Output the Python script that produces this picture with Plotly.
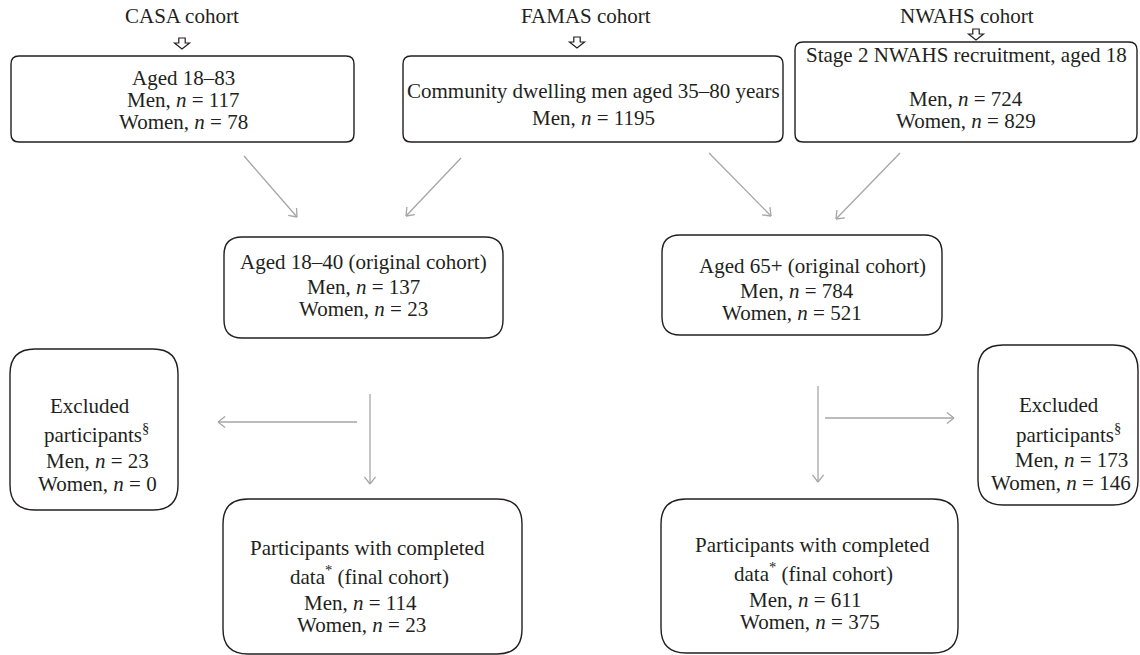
import numpy as np
import plotly.graph_objects as go

W, H = 1140, 655

# ---------------- data ----------------
cohort_names = ["CASA cohort", "FAMAS cohort", "NWAHS cohort"]
source_desc = ["Aged 18–83", "Community dwelling men aged 35–80 years", "Stage 2 NWAHS recruitment, aged 18"]
source_men = [117, 1195, 724]
source_women = [78, None, 829]

group_desc = ["Aged 18–40 (original cohort)", "Aged 65+ (original cohort)"]
original_men = [137, 784]
original_women = [23, 521]
excluded_men = [23, 173]
excluded_women = [0, 146]
final_men = [114, 611]
final_women = [23, 375]

# ---------------- styles / layout spec ----------------
FONT = "Liberation Serif"
FS = 21
TXT = "#231f20"
BOX = "#231f20"
ARROW = "#a6a6a6"

def men(n):
    return f"Men, <i>n</i> = {n}"

def women(n):
    return f"Women, <i>n</i> = {n}"

# boxes: x0, y0, x1, y1, radius
top_boxes = [(11, 56, 354, 142, 8), (403, 56, 783, 142, 8), (795, 42, 1137, 142, 8)]
mid_boxes = [(224, 237, 503, 338, 18), (662, 235, 942, 335, 18)]
excl_boxes = [(10, 349, 178, 510, 25), (978, 345, 1138, 505, 25)]
final_boxes = [(223, 499, 522, 654, 25), (661, 499, 958, 653, 25)]

title_pos = [(182, 16), (586, 16), (967, 16)]
hollow_pos = [(182, 38), (577, 37), (976, 29)]

# text lines per box: (text, x, y)
texts = []
# top boxes
texts += [(source_desc[0], 183, 78), (men(source_men[0]), 183, 100), (women(source_women[0]), 183, 122)]
texts += [(source_desc[1], 593, 91), (men(source_men[1]), 593, 118)]
texts += [(source_desc[2], 966, 55), (men(source_men[2]), 966, 99), (women(source_women[2]), 966, 121)]
# mid boxes
texts += [(group_desc[0], 363, 262), (men(original_men[0]), 363, 287), (women(original_women[0]), 363, 309)]
texts += [(group_desc[1], 812, 266), (men(original_men[1]), 797, 291), (women(original_women[1]), 792, 313)]
# excluded
texts += [("Excluded", 90, 406), ("participants<sup>§</sup>", 96, 433),
          (men(excluded_men[0]), 97, 461), (women(excluded_women[0]), 97, 484)]
texts += [("Excluded", 1059, 405), ("participants<sup>§</sup>", 1068, 433),
          (men(excluded_men[1]), 1071, 460), (women(excluded_women[1]), 1061, 483)]
# final
texts += [("Participants with completed", 367, 548), ("data<sup>*</sup> (final cohort)", 369, 575),
          (men(final_men[0]), 360, 603), (women(final_women[0]), 361, 625)]
texts += [("Participants with completed", 812, 545), ("data<sup>*</sup> (final cohort)", 813, 572),
          (men(final_men[1]), 805, 600), (women(final_women[1]), 810, 622)]

# arrows: (x0, y0, x1, y1)
arrows = [
    (244, 156, 297, 217), (461, 158, 406, 216),
    (709, 153, 771, 216), (900, 153, 836, 219),
    (370, 394, 370, 484), (357, 422, 218, 422),
    (818, 386, 818, 482), (825, 418, 954, 418),
]

# ---------------- build ----------------
def rrect(x0, y0, x1, y1, r):
    return (f"M{x0+r},{y0} L{x1-r},{y0} Q{x1},{y0} {x1},{y0+r} "
            f"L{x1},{y1-r} Q{x1},{y1} {x1-r},{y1} L{x0+r},{y1} "
            f"Q{x0},{y1} {x0},{y1-r} L{x0},{y0+r} Q{x0},{y0} {x0+r},{y0} Z")

shapes = []
for b in top_boxes + mid_boxes + excl_boxes + final_boxes:
    shapes.append(dict(type="path", path=rrect(*b), xref="x", yref="y",
                       line=dict(color=BOX, width=1.4), fillcolor="rgba(0,0,0,0)", layer="below"))

for (x0, y0, x1, y1) in arrows:
    shapes.append(dict(type="line", x0=x0, y0=y0, x1=x1, y1=y1, xref="x", yref="y",
                       line=dict(color=ARROW, width=1.3)))
    d = np.array([x1 - x0, y1 - y0], dtype=float)
    d /= np.linalg.norm(d)
    L, a = 9.0, np.radians(38)
    for s in (1, -1):
        c, sn = np.cos(s * a), np.sin(s * a)
        rd = np.array([c * d[0] - sn * d[1], sn * d[0] + c * d[1]])
        px, py = x1 - L * rd[0], y1 - L * rd[1]
        shapes.append(dict(type="line", x0=x1, y0=y1, x1=px, y1=py, xref="x", yref="y",
                           line=dict(color=ARROW, width=1.3)))

for (cx, ty) in hollow_pos:
    hw, sw, sh, hh = 7.5, 3.2, 5, 6
    p = (f"M{cx-sw},{ty} L{cx+sw},{ty} L{cx+sw},{ty+sh} L{cx+hw},{ty+sh} "
         f"L{cx},{ty+sh+hh} L{cx-hw},{ty+sh} L{cx-sw},{ty+sh} Z")
    shapes.append(dict(type="path", path=p, xref="x", yref="y",
                       line=dict(color=BOX, width=1.2), fillcolor="white"))

annotations = []
for name, (x, y) in zip(cohort_names, title_pos):
    annotations.append(dict(text=name, x=x, y=y, xref="x", yref="y", showarrow=False,
                            xanchor="center", yanchor="middle",
                            font=dict(family=FONT, size=FS, color=TXT)))
for (t, x, y) in texts:
    annotations.append(dict(text=t, x=x, y=y, xref="x", yref="y", showarrow=False,
                            xanchor="center", yanchor="middle",
                            font=dict(family=FONT, size=FS, color=TXT)))

fig = go.Figure()
fig.update_layout(
    width=W, height=H, autosize=False,
    margin=dict(l=0, r=0, t=0, b=0),
    paper_bgcolor="white", plot_bgcolor="white",
    xaxis=dict(range=[0, W], visible=False, fixedrange=True),
    yaxis=dict(range=[H, 0], visible=False, fixedrange=True),
    shapes=shapes, annotations=annotations, showlegend=False,
)
fig.write_html("out.html", config={"displayModeBar": False},
               post_script="document.body.style.margin='0';document.body.style.overflow='hidden';")
